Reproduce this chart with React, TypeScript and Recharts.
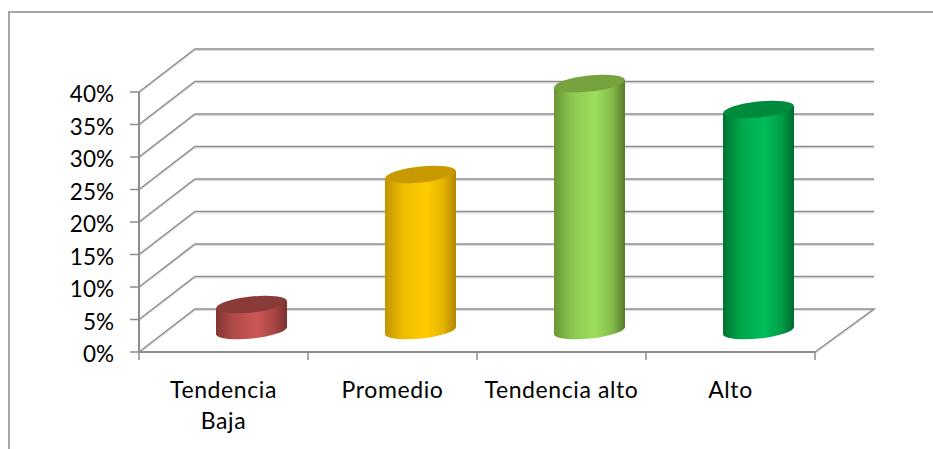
import { BarChart, Bar, XAxis, YAxis, CartesianGrid } from 'recharts';

const categories = ['Tendencia Baja', 'Promedio', 'Tendencia alto', 'Alto'];
const values = [4, 24, 38, 34];
const yTicks = [0, 5, 10, 15, 20, 25, 30, 35, 40];
const labelLines: Record<string, string[]> = { 'Tendencia Baja': ['Tendencia', 'Baja'] };

const topColors = ['#8a3b39', '#c89a00', '#76a33d', '#008a3e'];
const gradients = [
  ['#843634', '#b14a48', '#cc5755', '#a84644', '#7a3230'],
  ['#c39400', '#eebc00', '#ffcc00', '#e6b400', '#b08600'],
  ['#6a9436', '#8bc74f', '#9ddf5c', '#84bb4a', '#587b2e'],
  ['#00722f', '#00a74c', '#00bd58', '#009e47', '#006a2f'],
];
const gradientStops = [0, 0.25, 0.58, 0.82, 1];

const data = categories.map((name, i) => ({ name, value: values[i] }));

const GRID = '#8c8c8c';
const FONT = 'Lato, Carlito, sans-serif';
const BOTTOM = 352;
// offset of the back wall from the front of the box
const DEPTH_X = 56;
const DEPTH_Y = 43;

function gridLine(props: any) {
  const { x1, y1, x2 } = props;
  const backY = y1 - DEPTH_Y;
  const isFloor = Math.abs(y1 - BOTTOM) < 1;
  const path = `M${x1} ${y1} L${x1 + DEPTH_X} ${backY} L${x2 + 59} ${backY}` + (isFloor ? ` L${x2} ${y1}` : '');
  return (
    <g key={props.key ?? y1}>
      <path d={path} fill="none" stroke="#d9d9d9" strokeWidth={1} transform="translate(0 1.5)" />
      <path d={path} fill="none" stroke={GRID} strokeWidth={1.5} />
    </g>
  );
}

function Cylinder(props: any) {
  const { x, y, width, height, index } = props;
  // bars stand in the middle of the box depth
  const left = x + DEPTH_X / 2;
  const right = left + width;
  const top = y - DEPTH_Y / 2;
  const bottom = top + height;
  const rx = width / 2;
  const ry = 8;
  const tilt = 3.7;
  const body = `M${left} ${top + tilt} L${left} ${bottom + tilt} A${rx} ${ry} -6 0 0 ${right} ${bottom - tilt} L${right} ${top - tilt} Z`;
  return (
    <g>
      <path d={body} fill={`url(#cyl${index})`} />
      <ellipse cx={left + rx} cy={top} rx={rx} ry={ry} fill={topColors[index]} transform={`rotate(-6 ${left + rx} ${top})`} />
    </g>
  );
}

function CategoryTick(props: any) {
  const { x, payload, index, width, visibleTicksCount } = props;
  const half = width / visibleTicksCount / 2;
  const lines = labelLines[payload.value] ?? [payload.value];
  return (
    <g>
      <line x1={x - half} x2={x - half} y1={BOTTOM} y2={BOTTOM + 8} stroke={GRID} strokeWidth={1.5} />
      {index === visibleTicksCount - 1 && (
        <line x1={x + half} x2={x + half} y1={BOTTOM} y2={BOTTOM + 8} stroke={GRID} strokeWidth={1.5} />
      )}
      {lines.map((line: string, i: number) => (
        <text key={line} x={x} y={398 + i * 31} textAnchor="middle" fontFamily={FONT} fontSize={23} letterSpacing={0.6} fill="#000">
          {line}
        </text>
      ))}
    </g>
  );
}

function PercentTick(props: any) {
  const { y, payload } = props;
  return (
    <text x={114} y={y + 10} textAnchor="end" fontFamily={FONT} fontSize={22.5} fill="#000">
      {`${payload.value}%`}
    </text>
  );
}

export default function App() {
  return (
    <div style={{ position: 'absolute', left: 0, top: 0, width: 933, height: 449, overflow: 'hidden', background: '#fff' }}>
      <div style={{ position: 'absolute', left: 8, top: 11, width: 925, height: 438, borderTop: '2px solid #a6a6a6', borderLeft: '2px solid #a6a6a6' }} />
      <div style={{ position: 'absolute', left: 0, top: 0 }}>
        <BarChart
          width={933}
          height={449}
          data={data}
          margin={{ top: 92, right: 118, bottom: 57, left: 79 }}
          barSize={71}
        >
          <defs>
            {gradients.map((g, i) => (
              <linearGradient key={i} id={`cyl${i}`} x1="0" y1="0" x2="1" y2="0">
                {g.map((color, j) => (
                  <stop key={j} offset={gradientStops[j]} stopColor={color} />
                ))}
              </linearGradient>
            ))}
          </defs>
          <CartesianGrid vertical={false} horizontal={gridLine} />
          <XAxis
            dataKey="name"
            height={40}
            interval={0}
            tickLine={false}
            axisLine={{ stroke: GRID, strokeWidth: 2 }}
            tick={<CategoryTick />}
          />
          <YAxis
            width={60}
            domain={[0, 40]}
            ticks={yTicks}
            interval={0}
            tickSize={9}
            tickLine={{ stroke: GRID, strokeWidth: 1.5 }}
            axisLine={{ stroke: GRID, strokeWidth: 2 }}
            tick={<PercentTick />}
          />
          <Bar dataKey="value" isAnimationActive={false} shape={<Cylinder />} />
        </BarChart>
      </div>
    </div>
  );
}
